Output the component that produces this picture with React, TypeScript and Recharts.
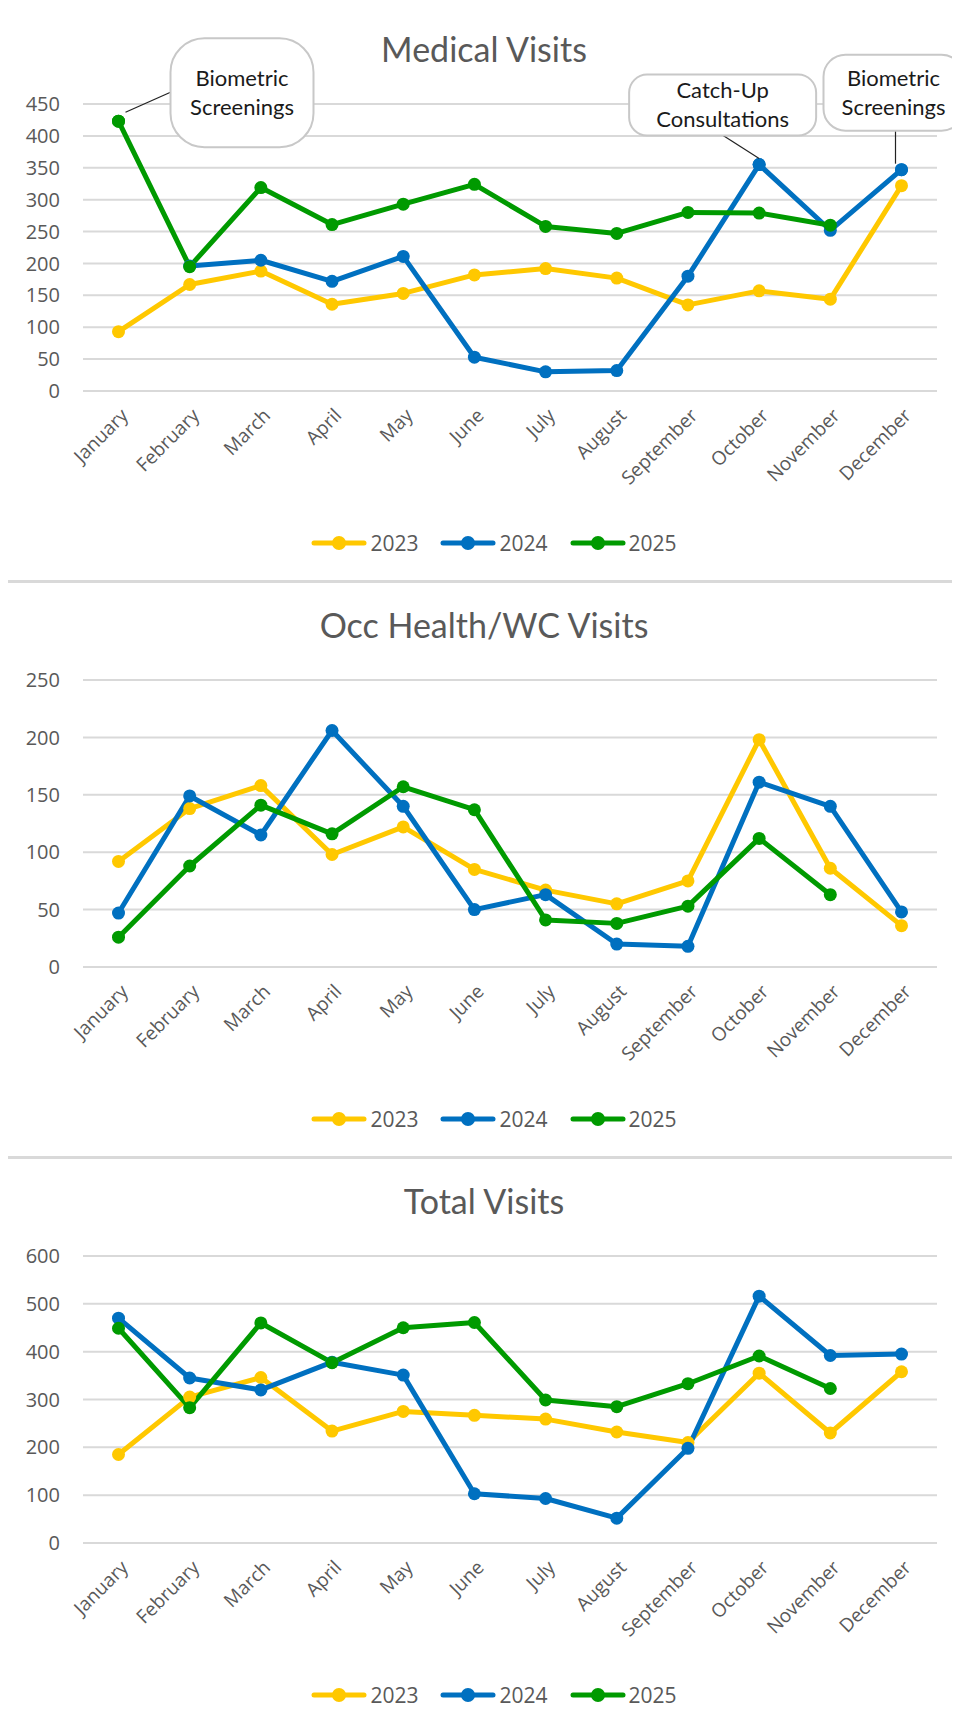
import React from 'react';
import { LineChart, Line, XAxis, YAxis, CartesianGrid, ReferenceDot } from 'recharts';

const MONTHS = ['January', 'February', 'March', 'April', 'May', 'June', 'July', 'August', 'September', 'October', 'November', 'December'];
const YEARS = ['2023', '2024', '2025'];
const COLORS = ['#FFC800', '#0070C0', '#009A00'];

// Medical visits
const MEDICAL_2023 = [93, 167, 188, 136, 153, 182, 192, 177, 135, 157, 144, 322];
const MEDICAL_2024 = [null, 196, 205, 172, 211, 53, 30, 32, 180, 355, 252, 347];
const MEDICAL_2025 = [423, 195, 319, 261, 293, 324, 258, 247, 280, 279, 260, null];
const MEDICAL_TICKS = [0, 50, 100, 150, 200, 250, 300, 350, 400, 450];

// Occ Health / WC visits
const OCC_2023 = [92, 138, 158, 98, 122, 85, 67, 55, 75, 198, 86, 36];
const OCC_2024 = [47, 149, 115, 206, 140, 50, 63, 20, 18, 161, 140, 48];
const OCC_2025 = [26, 88, 141, 116, 157, 137, 41, 38, 53, 112, 63, null];
const OCC_TICKS = [0, 50, 100, 150, 200, 250];

// Total visits
const TOTAL_2023 = [185, 305, 346, 234, 275, 267, 259, 232, 210, 355, 230, 358];
const TOTAL_2024 = [470, 345, 320, 378, 351, 103, 93, 52, 198, 516, 392, 395];
const TOTAL_2025 = [449, 283, 460, 377, 450, 461, 299, 285, 333, 391, 323, null];
const TOTAL_TICKS = [0, 100, 200, 300, 400, 500, 600];

const TEXT = '#595959';
const GRID = '#D9D9D9';
const TICK_FONT = "'Open Sans', 'Noto Sans', sans-serif";
const TITLE_FONT = "Lato, 'Open Sans', sans-serif";

const buildRows = (a: (number | null)[], b: (number | null)[], c: (number | null)[]) =>
  MONTHS.map((m, i) => ({ month: m, y2023: a[i], y2024: b[i], y2025: c[i] }));

const MonthTick = (props: any) => {
  const { x, y, payload } = props;
  return (
    <g transform={`translate(${x + 6},${y + 21})`}>
      <text transform="rotate(-45)" textAnchor="end" dy="0.35em" fill={TEXT} fontSize={19} fontFamily={TICK_FONT}>
        {payload.value}
      </text>
    </g>
  );
};

// callout box with a leader line, placed relative to the data point
const Callout = (props: any) => {
  const { viewBox, lines, box, leader, radius } = props;
  const cx = viewBox.x + viewBox.width / 2;
  const cy = viewBox.y + viewBox.height / 2;
  const [bx1, by1, bx2, by2] = box;
  const tx = cx + (bx1 + bx2) / 2;
  const mid = cy + (by1 + by2) / 2;
  return (
    <g>
      <line x1={cx + leader[0]} y1={cy + leader[1]} x2={cx + leader[2]} y2={cy + leader[3]} stroke="#222" strokeWidth={1.2} />
      <rect x={cx + bx1} y={cy + by1} width={bx2 - bx1} height={by2 - by1} rx={radius} ry={radius} fill="#fff" stroke="#C8C8C8" strokeWidth={2} />
      <text x={tx} y={mid - 14.5} textAnchor="middle" dy="0.35em" fontSize={22} fontFamily={TITLE_FONT} fill="#1a1a1a">{lines[0]}</text>
      <text x={tx} y={mid + 14.5} textAnchor="middle" dy="0.35em" fontSize={22} fontFamily={TITLE_FONT} fill="#1a1a1a">{lines[1]}</text>
    </g>
  );
};

const Legend2 = () => (
  <div style={{ position: 'absolute', left: 10, width: 952, top: 524, display: 'flex', justifyContent: 'center', fontFamily: TICK_FONT, fontSize: 21, color: TEXT }}>
    {YEARS.map((yr, i) => (
      <div key={yr} style={{ display: 'flex', alignItems: 'center', marginRight: i < 2 ? 22 : 0, height: 24 }}>
        <svg width={56} height={16}>
          <line x1={3} y1={8} x2={53} y2={8} stroke={COLORS[i]} strokeWidth={5} strokeLinecap="round" />
          <circle cx={28} cy={8} r={7} fill={COLORS[i]} />
        </svg>
        <span style={{ marginLeft: 3, lineHeight: '24px' }}>{yr}</span>
      </div>
    ))}
  </div>
);

type PanelProps = {
  title: string;
  top: number;
  data: any[];
  ticks: number[];
  callouts?: React.ReactNode;
};

const Panel = ({ title, top, data, ticks, callouts }: PanelProps) => (
  <div style={{ position: 'absolute', left: 6, top, width: 960, height: 576, boxSizing: 'border-box', borderTop: `2px solid ${GRID}`, borderLeft: `2px solid ${GRID}`, borderBottom: `1px solid ${GRID}` }}>
    <div style={{ position: 'absolute', left: 0, width: 952, top: 21, textAlign: 'center', fontFamily: TITLE_FONT, fontSize: 34, color: TEXT, lineHeight: '42px' }}>
      {title}
    </div>
    <LineChart width={952} height={572} data={data} margin={{ top: 97, right: 23, left: 0, bottom: 0 }}>
      <CartesianGrid vertical={false} stroke={GRID} strokeWidth={2} />
      <XAxis dataKey="month" axisLine={false} tickLine={false} tickSize={0} tickMargin={0} height={188} interval={0} padding={{ left: 35.5, right: 35.5 }} tick={<MonthTick />} />
      <YAxis width={75} domain={[ticks[0], ticks[ticks.length - 1]]} ticks={ticks} axisLine={false} tickLine={false} tickSize={0} tickMargin={23} interval={0}
        tick={{ fill: TEXT, fontSize: 20, fontFamily: TICK_FONT }} />
      {['y2023', 'y2024', 'y2025'].map((key, i) => (
        <Line key={key} type="linear" dataKey={key} stroke={COLORS[i]} strokeWidth={5} strokeLinejoin="round"
          dot={{ r: 6.5, fill: COLORS[i], stroke: COLORS[i], strokeWidth: 0 }} activeDot={false} isAnimationActive={false} />
      ))}
      {callouts}
    </LineChart>
    <Legend2 />
  </div>
);

const medicalRows = buildRows(MEDICAL_2023, MEDICAL_2024, MEDICAL_2025);
const occRows = buildRows(OCC_2023, OCC_2024, OCC_2025);
const totalRows = buildRows(TOTAL_2023, TOTAL_2024, TOTAL_2025);

const App: React.FC = () => {
  const medicalCallouts = [
    <ReferenceDot key="c1" x="January" y={MEDICAL_2025[0] as number} r={6.5} fill={COLORS[2]} stroke="none" ifOverflow="visible"
      label={(p: any) => <Callout {...p} lines={['Biometric', 'Screenings']} box={[52, -83, 195, 26]} leader={[7, -9, 52, -29]} radius={34} />} />,
    <ReferenceDot key="c2" x="October" y={MEDICAL_2024[9] as number} r={6.5} fill={COLORS[1]} stroke="none" ifOverflow="visible"
      label={(p: any) => <Callout {...p} lines={['Catch-Up', 'Consultations']} box={[-130, -90, 57, -29]} leader={[-36, -29, 0, -6]} radius={18} />} />,
    <ReferenceDot key="c3" x="December" y={MEDICAL_2024[11] as number} r={6.5} fill={COLORS[1]} stroke="none" ifOverflow="visible"
      label={(p: any) => <Callout {...p} lines={['Biometric', 'Screenings']} box={[-78, -115, 62, -39]} leader={[-6, -39, -6, -6]} radius={22} />} />,
  ];

  return (
    <div style={{ position: 'relative', width: 960, height: 1729, overflow: 'hidden', background: '#fff', margin: -8 }}>
      <Panel title="Medical Visits" top={5} data={medicalRows} ticks={MEDICAL_TICKS} callouts={medicalCallouts} />
      <Panel title="Occ Health/WC Visits" top={581} data={occRows} ticks={OCC_TICKS} />
      <Panel title="Total Visits" top={1157} data={totalRows} ticks={TOTAL_TICKS} />
    </div>
  );
};

export default App;
